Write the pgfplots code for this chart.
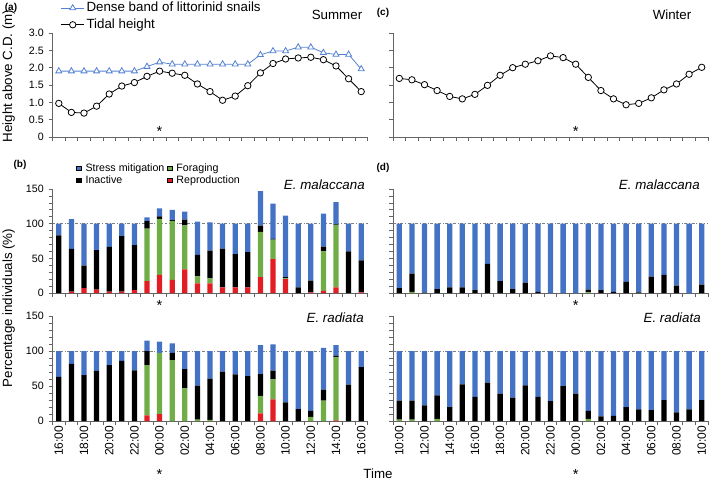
\documentclass[border=0pt]{standalone}
\usepackage{fontspec}
\setmainfont{Liberation Sans}
\usepackage{pgfplots}
\pgfplotsset{compat=1.18}

\definecolor{sblue}{RGB}{68,114,196}
\definecolor{tblue}{RGB}{84,130,210}
\definecolor{fgreen}{RGB}{112,173,71}
\definecolor{rred}{RGB}{226,30,36}
\definecolor{axgray}{RGB}{100,100,100}

\pgfplotsset{
  panel/.style={
    scale only axis, width=236.25pt, anchor=south west,
    xmin=-0.5, xmax=24.5, clip=false,
    axis x line*=bottom, axis y line*=left,
    axis line style={axgray, line width=0.6pt},
    tick align=outside, major tick length=3pt, minor tick length=3pt,
    tick style={axgray, line width=0.5pt},
    xtick={-0.5,0.5,...,24.5}, xticklabels={},
    yticklabel style={font=\fontsize{8}{9.6}\selectfont, text=black},
    /pgf/number format/assume math mode=true,
  },
  tide/.style={panel, height=78pt, ymin=0, ymax=3, ytick={0,0.5,...,3}},
  bars/.style={panel, ymin=0, ymax=150, ytick={0,50,100,150},
    minor ytick={10,20,30,40,60,70,80,90,110,120,130,140},
    ybar stacked, bar width=0.42,
    extra y ticks={100}, extra y tick labels={},
    extra y tick style={grid=major,
      major grid style={gray, line width=0.5pt, dash pattern=on 2.2pt off 1.4pt on 0.6pt off 1.4pt}},
  },
  timelabels/.style={extra x ticks={0,2,...,24}, extra x tick labels={#1},
    extra x tick style={major tick length=0pt,
      xticklabel style={rotate=90, anchor=east, font=\fontsize{9}{10.8}\selectfont}}},
  sq/.style={legend image code/.code={\fill[##1] (0pt,-1.8pt) rectangle (3.6pt,1.8pt);}},
}

\begin{document}
\begin{tikzpicture}
\useasboundingbox (0,0) rectangle (531.75pt,-360.75pt);

% (a) summer tide
\begin{axis}[tide, at={(39.375pt,-102.75pt)},
  yticklabels={0,0.5,1.0,1.5,2.0,2.5,3.0},
  legend style={at={(0.026,1.322)}, anchor=north west, draw=none, fill=none,
    inner sep=0pt, font=\fontsize{10}{12}\selectfont,
    nodes={inner sep=1.5pt, text height=7.5pt, text depth=2pt}},
  legend cell align=left]
\addplot[tblue, line width=0.6pt, mark=triangle*, mark size=2.6pt,
  mark options={fill=white}] coordinates {
  (0,1.9) (1,1.9) (2,1.9) (3,1.9) (4,1.9) (5,1.9) (6,1.9) (7,2.03) (8,2.16)
  (9,2.1) (10,2.1) (11,2.1) (12,2.1) (13,2.1) (14,2.1) (15,2.1) (16,2.37)
  (17,2.48) (18,2.48) (19,2.59) (20,2.59) (21,2.43) (22,2.38) (23,2.38) (24,1.96)};
\addlegendentry{Dense band of littorinid snails}
\addplot[black, line width=0.6pt, mark=*, mark size=2.4pt,
  mark options={fill=white}] coordinates {
  (0,0.97) (1,0.71) (2,0.69) (3,0.89) (4,1.24) (5,1.47) (6,1.57) (7,1.75) (8,1.9)
  (9,1.84) (10,1.78) (11,1.53) (12,1.31) (13,1.06) (14,1.18) (15,1.48) (16,1.85)
  (17,2.12) (18,2.25) (19,2.28) (20,2.3) (21,2.23) (22,2.05) (23,1.68) (24,1.31)};
\addlegendentry{Tidal height}
\node[font=\fontsize{11}{12}\selectfont] at (axis cs:8,0.15) {*};
\end{axis}

% (c) winter tide
\begin{axis}[tide, at={(294.75pt,-102.75pt)}, yticklabels={}]
\addplot[black, line width=0.6pt, mark=*, mark size=2.4pt,
  mark options={fill=white}] coordinates {
  (0,1.69) (1,1.65) (2,1.51) (3,1.34) (4,1.17) (5,1.10) (6,1.23) (7,1.49) (8,1.78)
  (9,2.0) (10,2.1) (11,2.2) (12,2.34) (13,2.29) (14,2.1) (15,1.72) (16,1.34)
  (17,1.10) (18,0.93) (19,0.97) (20,1.13) (21,1.36) (22,1.53) (23,1.81) (24,2.01)};
\node[font=\fontsize{11}{12}\selectfont] at (axis cs:14,0.15) {*};
\end{axis}

% (b) summer E. malaccana
\begin{axis}[bars, height=78pt, at={(39.375pt,-219.75pt)}, sq,
  legend columns=2,
  legend style={at={(0.0746,1.26)}, anchor=north west, draw=none, fill=none,
    inner sep=0pt, font=\fontsize{8}{9.6}\selectfont,
    nodes={inner sep=1pt, inner ysep=0.7pt, text height=6pt, text depth=1.6pt},
    /tikz/every odd column/.append style={column sep=2pt},
    /tikz/every even column/.append style={column sep=1pt}},
  legend cell align=left]
\addlegendimage{fill=sblue}\addlegendentry{Stress mitigation}
\addlegendimage{fill=fgreen}\addlegendentry{Foraging}
\addlegendimage{fill=black}\addlegendentry{Inactive}
\addlegendimage{fill=rred}\addlegendentry{Reproduction}
\addplot[fill=rred, draw=none, forget plot] coordinates {
  (0,0) (1,2) (2,7) (3,5) (4,2) (5,2) (6,4) (7,17) (8,26) (9,19) (10,34) (11,14)
  (12,14) (13,8) (14,8) (15,8) (16,23) (17,49) (18,20) (19,0) (20,1) (21,3) (22,8) (23,0) (24,1)};
\addplot[fill=fgreen, draw=none, forget plot] coordinates {
  (0,0) (1,0) (2,0) (3,0) (4,0) (5,0) (6,0) (7,76) (8,81) (9,85) (10,63.5) (11,10)
  (12,7) (13,0) (14,0) (15,0) (16,65) (17,28) (18,1) (19,0) (20,0) (21,57) (22,90) (23,0) (24,0)};
\addplot[fill=black, draw=none, forget plot] coordinates {
  (0,83) (1,61.5) (2,32.5) (3,57) (4,64.5) (5,80) (6,65) (7,10.5) (8,3.5) (9,1) (10,8.5) (11,31)
  (12,40) (13,56) (14,48) (15,51) (16,9) (17,1) (18,2) (19,8) (20,17) (21,7) (22,1) (23,60) (24,46)};
\addplot[fill=sblue, draw=none, forget plot] coordinates {
  (0,17) (1,43) (2,60.5) (3,38) (4,33.5) (5,18) (6,31) (7,5.5) (8,11.5) (9,15) (10,11.5) (11,48)
  (12,41) (13,36) (14,44) (15,41) (16,50) (17,51) (18,88.5) (19,92) (20,82) (21,47.5) (22,32) (23,40) (24,53)};
\end{axis}

% (b) summer E. radiata
\begin{axis}[bars, height=78.75pt, at={(39.375pt,-315.75pt)},
  timelabels={16:00,18:00,20:00,22:00,00:00,02:00,04:00,06:00,08:00,10:00,12:00,14:00,16:00}]
\addplot[fill=rred, draw=none] coordinates {
  (0,0) (1,0) (2,0) (3,0) (4,0) (5,0) (6,0) (7,8) (8,10) (9,0) (10,0) (11,0)
  (12,0) (13,0) (14,0) (15,0) (16,11) (17,31) (18,0) (19,0) (20,0) (21,0) (22,1) (23,0) (24,0)};
\addplot[fill=fgreen, draw=none] coordinates {
  (0,0) (1,0) (2,0) (3,0) (4,0) (5,0) (6,0) (7,72) (8,87.5) (9,87) (10,46.5) (11,2)
  (12,1.5) (13,0) (14,0) (15,0) (16,25) (17,28.5) (18,0) (19,0) (20,6) (21,29) (22,90) (23,0) (24,0)};
\addplot[fill=black, draw=none] coordinates {
  (0,63) (1,81.5) (2,65.5) (3,71.5) (4,80) (5,86) (6,72.5) (7,20) (8,0) (9,10.5) (10,27.5) (11,48.5)
  (12,59) (13,70.5) (14,66.5) (15,64) (16,31) (17,12.5) (18,26.5) (19,17) (20,8.5) (21,16) (22,2) (23,52) (24,77)};
\addplot[fill=sblue, draw=none] coordinates {
  (0,37) (1,18.5) (2,34.5) (3,28.5) (4,20) (5,14) (6,27.5) (7,15) (8,16) (9,13.5) (10,26) (11,49.5)
  (12,39.5) (13,29.5) (14,33.5) (15,36) (16,41.5) (17,37.5) (18,73.5) (19,83) (20,85.5) (21,59.5) (22,15.5) (23,48) (24,23)};
\end{axis}

% (d) winter E. malaccana
\begin{axis}[bars, height=78pt, at={(294.75pt,-219.75pt)}, yticklabels={}]
\addplot[fill=fgreen, draw=none] coordinates {
  (0,0) (1,1.5) (2,0) (3,0) (4,0) (5,0) (6,0) (7,0) (8,0) (9,0) (10,0) (11,0)
  (12,0) (13,0) (14,0) (15,1) (16,0) (17,0) (18,0) (19,0) (20,0) (21,0) (22,0) (23,0) (24,0)};
\addplot[fill=black, draw=none] coordinates {
  (0,7) (1,26.5) (2,0.5) (3,5.5) (4,8) (5,8) (6,4) (7,42) (8,17) (9,5.5) (10,15) (11,1.5)
  (12,0) (13,0) (14,0) (15,4) (16,4) (17,1.5) (18,16) (19,1) (20,23.5) (21,26) (22,10.5) (23,0) (24,12)};
\addplot[fill=sblue, draw=none] coordinates {
  (0,93) (1,72) (2,99.5) (3,94.5) (4,92) (5,92) (6,96) (7,58) (8,83) (9,94.5) (10,85) (11,98.5)
  (12,100) (13,100) (14,100) (15,95) (16,96) (17,98.5) (18,84) (19,99) (20,76.5) (21,74) (22,89.5) (23,100) (24,88)};
\end{axis}

% (d) winter E. radiata
\begin{axis}[bars, height=78.75pt, at={(294.75pt,-315.75pt)}, yticklabels={},
  timelabels={10:00,12:00,14:00,16:00,18:00,20:00,22:00,00:00,02:00,04:00,06:00,08:00,10:00}]
\addplot[fill=fgreen, draw=none] coordinates {
  (0,2) (1,2) (2,0) (3,3) (4,0) (5,0) (6,0) (7,0) (8,0) (9,0) (10,0) (11,0)
  (12,0) (13,0) (14,0) (15,3) (16,0) (17,0) (18,0) (19,0) (20,0) (21,0) (22,0) (23,0) (24,0)};
\addplot[fill=black, draw=none] coordinates {
  (0,27) (1,27) (2,22.5) (3,33.5) (4,20) (5,52.5) (6,34.5) (7,55) (8,39) (9,33.5) (10,51) (11,34.5)
  (12,28.5) (13,50) (14,39) (15,11.5) (16,6.5) (17,7.5) (18,20) (19,16.5) (20,15.5) (21,30) (22,12.5) (23,16.5) (24,30)};
\addplot[fill=sblue, draw=none] coordinates {
  (0,71) (1,71) (2,77.5) (3,63.5) (4,80) (5,47.5) (6,65.5) (7,45) (8,61) (9,66.5) (10,49) (11,65.5)
  (12,71.5) (13,50) (14,61) (15,85.5) (16,93.5) (17,92.5) (18,80) (19,83.5) (20,84.5) (21,70) (22,87.5) (23,83.5) (24,70)};
\end{axis}

% panel letters, titles and axis labels
\begin{scope}[every node/.style={inner sep=0pt}]
\node[font=\bfseries\fontsize{7.5}{9}\selectfont] at (8.25pt,-6pt) {(a)};
\node[font=\bfseries\fontsize{7.5}{9}\selectfont] at (287.25pt,-9.75pt) {(c)};
\node[font=\bfseries\fontsize{7.5}{9}\selectfont] at (15pt,-123.75pt) {(b)};
\node[font=\bfseries\fontsize{7.5}{9}\selectfont] at (287.25pt,-126pt) {(d)};
\node[font=\fontsize{10}{12}\selectfont] at (252.75pt,-11.25pt) {Summer};
\node[font=\fontsize{10}{12}\selectfont] at (504pt,-11.25pt) {Winter};
\node[font=\itshape\fontsize{10}{12}\selectfont, anchor=east] at (273.75pt,-138.75pt) {E. malaccana};
\node[font=\itshape\fontsize{10}{12}\selectfont, anchor=east] at (525pt,-138.75pt) {E. malaccana};
\node[font=\itshape\fontsize{10}{12}\selectfont, anchor=east] at (273pt,-238.5pt) {E. radiata};
\node[font=\itshape\fontsize{10}{12}\selectfont, anchor=east] at (525.75pt,-238.5pt) {E. radiata};
\node[font=\fontsize{10}{12}\selectfont] at (283.5pt,-355.5pt) {Time};
\node[font=\fontsize{10}{12}\selectfont, rotate=90] at (6.5pt,-57pt) {Height above C.D. (m)};
\node[font=\fontsize{10}{12}\selectfont, rotate=90] at (6.5pt,-231pt) {Percentage individuals (\%)};
\node[font=\fontsize{11}{12}\selectfont] at (119.7pt,-229pt) {*};
\node[font=\fontsize{11}{12}\selectfont] at (431.8pt,-229pt) {*};
\node[font=\fontsize{11}{12}\selectfont] at (119.7pt,-356pt) {*};
\node[font=\fontsize{11}{12}\selectfont] at (431.8pt,-356pt) {*};
\end{scope}
\end{tikzpicture}
\end{document}
